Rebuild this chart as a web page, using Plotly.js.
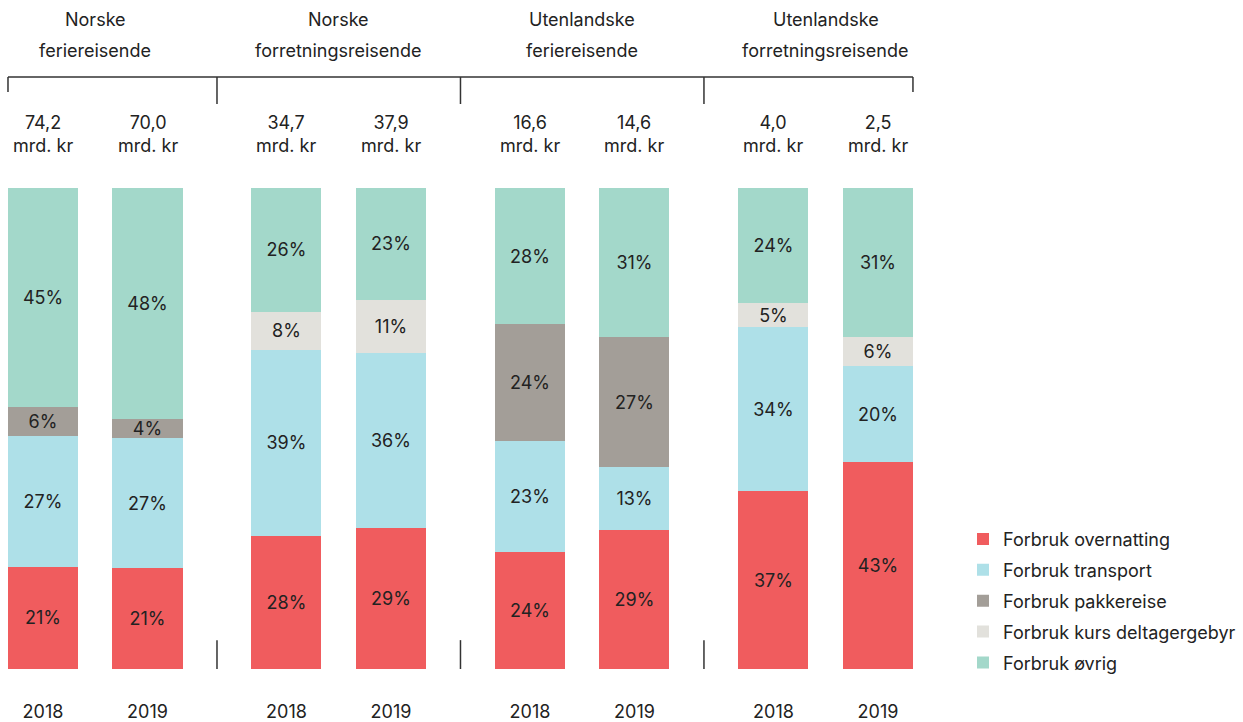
<!DOCTYPE html>
<html>
<head>
<meta charset="utf-8">
<script src="https://cdn.plot.ly/plotly-3.0.1.min.js"></script>
<style>html,body{margin:0;padding:0;background:#fff;}#chart{width:1243px;height:722px;}</style>
</head>
<body>
<div id="chart"></div>
<script>
// ---- Data ----
const groupLine1 = ["Norske", "Norske", "Utenlandske", "Utenlandske"];
const groupLine2 = ["feriereisende", "forretningsreisende", "feriereisende", "forretningsreisende"];
const years = ["2018", "2019"];
const totals = [74.2, 70.0, 34.7, 37.9, 16.6, 14.6, 4.0, 2.5]; // mrd. kr
const overnatting = [21, 21, 28, 29, 24, 29, 37, 43];
const transport   = [27, 27, 39, 36, 23, 13, 34, 20];
const pakkereise  = [6, 4, 0, 0, 24, 27, 0, 0];
const kurs        = [0, 0, 8, 11, 0, 0, 5, 6];
const ovrig       = [45, 48, 26, 23, 28, 31, 24, 31];
const seriesNames = ["Forbruk overnatting", "Forbruk transport", "Forbruk pakkereise", "Forbruk kurs deltagergebyr", "Forbruk øvrig"];
const seriesValues = [overnatting, transport, pakkereise, kurs, ovrig];
const seriesColors = ["#F05C5E", "#AEE0E8", "#A39E98", "#E2E1DC", "#A3D8CA"];

// ---- Layout helpers ----
const FONT = "Inter, 'Open Sans', sans-serif";
const TXT = "#222222";
const groupPitch = 2.33;
const barWidth = 0.67;
const xs = [];
const yearLabels = [];
groupLine1.forEach((g, gi) => years.forEach((y, yi) => { xs.push(gi * groupPitch + yi); yearLabels.push(y); }));

const traces = seriesValues.map((vals, i) => ({
  type: "bar",
  name: seriesNames[i],
  x: xs,
  y: vals,
  width: barWidth,
  marker: { color: seriesColors[i], line: { width: 0 } },
  text: vals.map(v => v > 0 ? v + "%" : ""),
  textposition: "inside",
  insidetextanchor: "middle",
  textangle: 0,
  constraintext: "none",
  textfont: { family: FONT, size: 18, color: TXT },
  legendgroup: "g" + i,
  hoverinfo: "skip"
}));

const annotations = [];
const shapes = [];
const lineStyle = { color: "#333333", width: 1.5 };
// totals above bars
xs.forEach((x, i) => {
  annotations.push({
    x: x, xref: "x", y: 1.1133, yref: "paper",
    text: totals[i].toFixed(1).replace(".", ",") + "<br>mrd. kr",
    showarrow: false, xanchor: "center", yanchor: "middle",
    font: { family: FONT, size: 18, color: TXT }
  });
});
// group headings
groupLine1.forEach((g, gi) => {
  const cx = gi * groupPitch + 0.5;
  annotations.push({ x: cx, xref: "x", y: 1.3493, yref: "paper", text: g, showarrow: false,
    xanchor: "center", yanchor: "middle", font: { family: FONT, size: 18, color: TXT } });
  annotations.push({ x: cx, xref: "x", y: 1.2869, yref: "paper", text: groupLine2[gi], showarrow: false,
    xanchor: "center", yanchor: "middle", font: { family: FONT, size: 18, color: TXT } });
});
// bracket
const xL = xs[0] - barWidth / 2, xR = xs[xs.length - 1] + barWidth / 2;
const yTop = 1.2308;
shapes.push({ type: "line", xref: "x", yref: "paper", x0: xL, x1: xR, y0: yTop, y1: yTop, line: lineStyle });
shapes.push({ type: "line", xref: "x", yref: "paper", x0: xL, x1: xL, y0: yTop, y1: 1.1996, line: lineStyle });
shapes.push({ type: "line", xref: "x", yref: "paper", x0: xR, x1: xR, y0: yTop, y1: 1.1996, line: lineStyle });
for (let gi = 0; gi < groupLine1.length - 1; gi++) {
  const mx = (xs[gi * 2 + 1] + xs[gi * 2 + 2]) / 2;
  shapes.push({ type: "line", xref: "x", yref: "paper", x0: mx, x1: mx, y0: yTop, y1: 1.1746, line: lineStyle });
  shapes.push({ type: "line", xref: "x", yref: "paper", x0: mx, x1: mx, y0: 0, y1: 0.06, line: lineStyle });
}

const layout = {
  width: 1243, height: 722,
  margin: { l: 0, r: 323, t: 188, b: 53, pad: 0 },
  paper_bgcolor: "#ffffff", plot_bgcolor: "#ffffff",
  barmode: "stack",
  barnorm: "percent",
  font: { family: FONT, size: 18, color: TXT },
  xaxis: {
    range: [-43 / 104.5, (920 - 43) / 104.5],
    tickmode: "array", tickvals: xs, ticktext: yearLabels,
    ticks: "outside", ticklen: 26, tickcolor: "rgba(0,0,0,0)",
    showline: false, showgrid: false, zeroline: false, fixedrange: true,
    tickfont: { family: FONT, size: 18, color: TXT }
  },
  yaxis: { range: [0, 100], visible: false, fixedrange: true },
  showlegend: true,
  legend: {
    x: 963 / 920, xanchor: "left", y: 0.3083, yanchor: "top",
    traceorder: "grouped", tracegroupgap: 4.5,
    font: { family: FONT, size: 18, color: TXT },
    bgcolor: "rgba(0,0,0,0)"
  },
  hovermode: false,
  annotations: annotations,
  shapes: shapes
};

Plotly.newPlot("chart", traces, layout, { displayModeBar: false, staticPlot: true });
</script>
</body>
</html>
